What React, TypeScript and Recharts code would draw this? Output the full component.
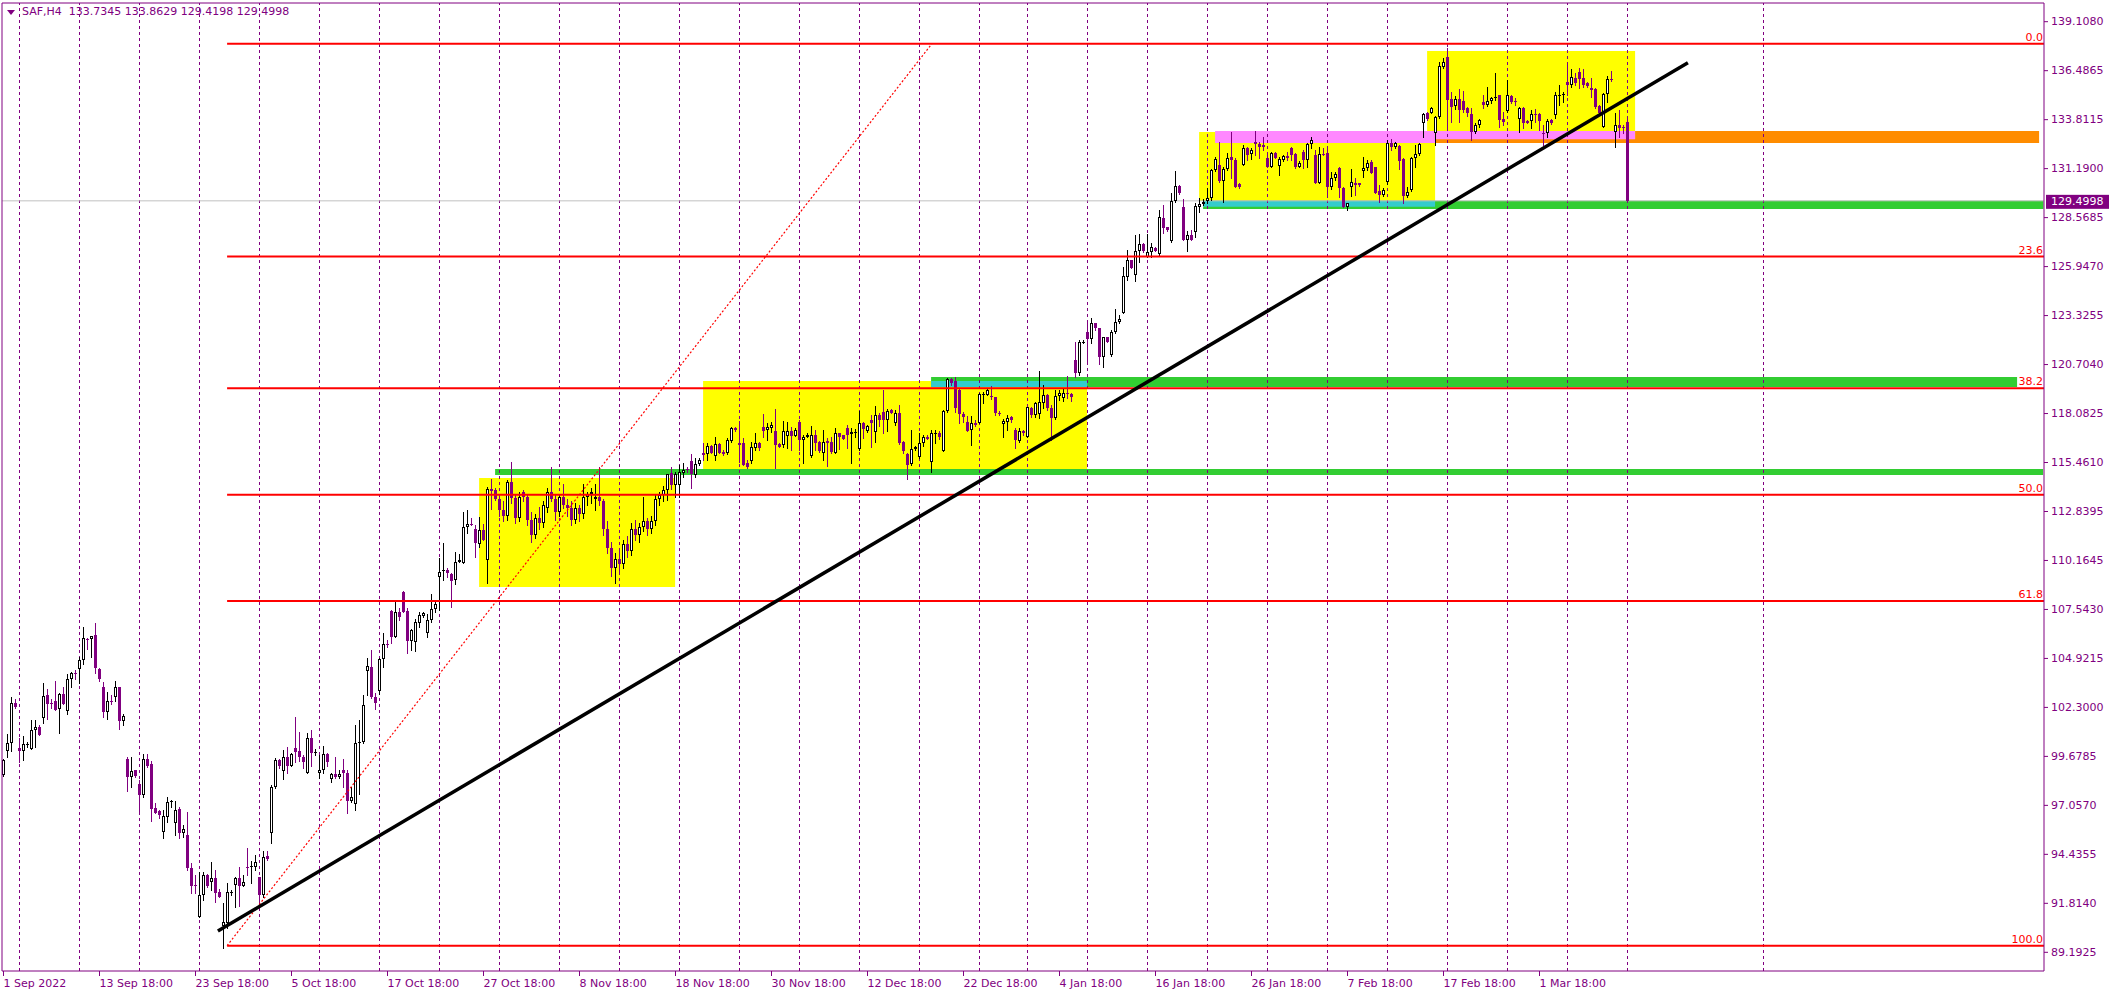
import React from 'react';
import { ComposedChart, Bar, XAxis, YAxis, ReferenceLine, ReferenceArea } from 'recharts';

const PURPLE = '#800080';
const FONT = 'DejaVu Sans';

const TITLE_TEXT = 'SAF,H4  133.7345 133.8629 129.4198 129.4998';
const LAST_PRICE = 129.4998;
const LAST_PRICE_LABEL = '129.4998';

// OHLC per H4 bar: [open, high, low, close]
const CANDLES: number[][] = [
  [98.70, 99.55, 98.65, 99.51], [100.01, 100.89, 99.69, 100.40], [100.40, 102.87, 100.01, 102.55], [102.55, 102.78, 102.32, 102.37], [100.17, 100.67, 99.38, 100.01],
  [100.01, 100.80, 99.51, 100.37], [100.33, 100.49, 100.19, 100.37], [100.08, 101.65, 100.08, 101.12], [101.10, 101.65, 100.22, 101.28], [101.30, 101.38, 100.87, 100.87],
  [101.74, 103.62, 101.51, 102.92], [102.98, 103.30, 101.73, 102.53], [102.58, 102.80, 102.30, 102.55], [102.66, 103.74, 102.19, 102.19], [102.23, 103.08, 100.94, 103.03],
  [103.05, 103.41, 102.53, 102.53], [102.15, 104.12, 101.99, 103.84], [103.84, 104.25, 103.41, 104.17], [104.17, 104.34, 103.84, 104.14], [104.41, 105.05, 103.62, 104.85],
  [104.85, 106.62, 104.64, 106.03], [106.02, 106.03, 105.44, 105.98], [106.02, 106.18, 105.05, 106.14], [106.21, 106.84, 104.19, 104.42], [104.39, 104.42, 103.76, 103.87],
  [103.41, 103.67, 101.80, 102.10], [102.10, 103.14, 101.73, 102.66], [102.67, 102.99, 102.49, 102.64], [102.87, 103.74, 102.69, 103.41], [103.41, 103.44, 101.19, 101.62],
  [101.62, 101.98, 101.39, 101.85], [99.54, 99.69, 97.86, 98.61], [98.61, 99.69, 98.08, 98.90], [98.95, 98.99, 98.61, 98.65], [98.22, 98.44, 96.79, 97.63],
  [97.63, 99.83, 97.54, 99.54], [99.54, 99.83, 99.15, 99.20], [99.29, 99.47, 96.24, 96.88], [96.92, 97.18, 96.65, 96.68], [96.77, 96.83, 96.42, 96.56],
  [95.66, 96.83, 95.34, 96.50], [96.47, 97.51, 96.20, 97.26], [97.26, 97.36, 97.00, 97.29], [96.11, 97.31, 95.48, 96.83], [96.88, 96.97, 95.31, 95.61],
  [95.61, 96.02, 95.36, 95.79], [95.48, 96.74, 93.61, 93.70], [93.70, 93.97, 92.36, 92.77], [92.78, 93.34, 92.36, 92.75], [91.10, 93.52, 91.10, 92.25],
  [92.25, 93.52, 92.00, 93.32], [93.32, 93.39, 92.71, 92.77], [92.98, 94.06, 92.54, 93.16], [93.16, 93.61, 91.91, 92.39], [92.43, 92.61, 92.18, 92.18],
  [90.62, 91.82, 89.42, 90.80], [90.75, 92.89, 90.48, 92.41], [92.39, 92.54, 92.27, 92.43], [92.80, 93.25, 91.64, 93.16], [93.16, 93.79, 91.68, 92.77],
  [92.77, 93.34, 92.77, 92.95], [93.79, 94.77, 93.34, 93.75], [93.75, 94.11, 92.89, 93.82], [93.79, 94.41, 93.61, 94.02], [93.21, 93.25, 91.64, 92.27],
  [92.27, 94.64, 92.18, 94.32], [94.36, 94.64, 94.14, 94.18], [95.57, 98.17, 95.04, 98.04], [98.04, 99.60, 97.99, 99.51], [99.51, 99.54, 99.06, 99.19],
  [98.94, 100.04, 98.49, 99.65], [99.65, 100.22, 98.79, 99.20], [99.20, 99.87, 99.19, 99.83], [100.13, 101.83, 99.42, 99.96], [99.99, 100.99, 99.47, 99.65],
  [99.69, 99.78, 99.10, 99.42], [98.79, 100.94, 98.79, 100.67], [100.67, 101.12, 99.20, 99.87], [99.87, 100.08, 99.78, 99.92], [98.79, 99.78, 98.52, 98.97],
  [98.97, 100.26, 98.79, 99.83], [99.83, 99.87, 99.19, 99.42], [98.47, 98.79, 98.31, 98.76], [98.76, 99.69, 98.52, 98.61], [98.58, 98.97, 98.52, 98.76],
  [98.97, 99.54, 98.08, 98.79], [98.79, 98.97, 96.68, 97.33], [97.33, 98.08, 97.27, 97.50], [97.13, 101.39, 96.82, 100.40], [100.40, 101.65, 97.69, 100.49],
  [100.49, 102.99, 100.40, 102.46], [104.28, 104.96, 102.99, 104.55], [104.48, 105.41, 102.82, 102.87], [102.87, 103.08, 102.22, 102.55], [103.23, 104.96, 103.05, 104.91],
  [104.91, 106.30, 104.51, 105.71], [105.71, 105.94, 105.59, 105.66], [107.50, 107.55, 105.80, 106.12], [106.12, 108.00, 106.12, 107.46], [107.46, 107.64, 107.02, 107.16],
  [108.54, 108.57, 107.43, 107.46], [107.50, 107.64, 105.23, 105.89], [105.89, 106.52, 105.41, 106.48], [105.85, 107.07, 105.37, 106.93], [106.84, 107.46, 106.62, 107.29],
  [107.23, 107.46, 107.20, 107.41], [106.34, 107.34, 106.09, 107.02], [107.02, 108.41, 106.93, 107.59], [107.59, 108.09, 107.46, 107.87], [109.31, 110.32, 107.55, 109.61],
  [109.65, 111.17, 109.16, 109.68], [109.70, 109.79, 109.31, 109.56], [109.48, 109.52, 107.73, 109.13], [109.16, 110.68, 108.95, 110.11], [110.11, 110.56, 110.11, 110.24],
  [110.09, 112.83, 110.06, 112.02], [112.02, 112.92, 111.67, 112.17], [112.17, 112.47, 112.11, 112.13], [111.88, 112.11, 110.38, 111.13], [111.09, 112.52, 110.95, 111.84],
  [111.84, 112.17, 111.31, 111.31], [110.24, 114.17, 108.98, 114.03], [114.03, 114.56, 112.95, 113.95], [113.99, 114.08, 113.45, 113.49], [113.50, 113.70, 112.60, 112.90],
  [112.90, 113.40, 112.30, 112.60], [112.60, 114.50, 112.40, 114.40], [114.40, 115.50, 113.30, 113.55], [113.55, 113.80, 112.20, 112.50], [112.50, 113.90, 112.30, 113.60],
  [113.90, 114.00, 113.40, 113.60], [113.60, 113.70, 112.10, 112.40], [112.40, 112.80, 111.20, 111.60], [111.60, 112.70, 111.40, 112.50], [112.50, 113.10, 111.90, 112.20],
  [112.20, 113.40, 112.00, 113.20], [113.00, 114.10, 112.80, 113.90], [113.90, 115.20, 113.40, 113.50], [113.50, 113.70, 112.40, 112.80], [112.80, 113.80, 112.60, 113.60],
  [113.60, 114.30, 113.00, 113.20], [113.20, 113.50, 112.60, 113.00], [113.00, 113.40, 112.10, 112.40], [112.40, 113.30, 112.20, 113.00], [113.00, 113.20, 112.30, 112.70],
  [112.70, 114.30, 112.50, 113.60], [113.60, 113.90, 113.20, 113.80], [113.80, 114.10, 113.30, 113.90], [113.50, 114.30, 112.90, 113.60], [113.60, 115.20, 113.20, 113.40],
  [113.40, 113.50, 111.60, 111.90], [111.90, 112.30, 110.60, 110.90], [110.90, 111.20, 109.40, 109.80], [109.80, 110.60, 109.00, 110.30], [110.30, 110.80, 109.60, 110.00],
  [110.00, 111.30, 109.80, 111.10], [111.10, 111.50, 110.40, 110.70], [110.70, 112.20, 110.50, 111.90], [111.90, 112.40, 111.30, 111.60], [111.60, 112.20, 111.20, 112.00],
  [112.00, 113.60, 111.80, 112.30], [112.30, 112.50, 111.60, 111.90], [111.90, 112.60, 111.70, 112.30], [112.30, 113.70, 112.10, 113.50], [113.50, 113.90, 113.20, 113.70],
  [113.70, 114.20, 113.40, 113.99], [113.99, 114.85, 113.45, 114.85], [114.88, 115.20, 114.03, 114.26], [114.26, 114.97, 113.63, 114.85], [114.26, 115.33, 113.63, 114.97],
  [114.92, 115.42, 114.71, 115.06], [115.12, 115.20, 114.97, 115.08], [115.54, 115.92, 114.08, 114.85], [114.79, 115.69, 114.71, 115.37], [115.38, 115.69, 115.33, 115.60],
  [115.96, 116.53, 115.60, 115.89], [115.90, 116.49, 115.60, 116.35], [116.33, 116.40, 115.96, 115.99], [115.81, 116.81, 115.60, 116.46], [116.46, 116.49, 115.96, 115.99],
  [116.05, 116.14, 115.89, 115.92], [115.96, 116.76, 115.92, 116.67], [116.64, 117.35, 116.58, 117.30], [117.31, 117.35, 117.17, 117.21], [116.49, 117.71, 115.51, 116.42],
  [116.49, 116.76, 115.33, 115.33], [115.46, 115.60, 115.15, 115.24], [115.56, 116.58, 115.42, 116.31], [116.26, 117.03, 116.14, 116.53], [116.53, 116.58, 116.14, 116.22],
  [117.37, 118.07, 116.81, 117.16], [117.21, 117.57, 116.67, 117.35], [117.30, 117.66, 117.12, 117.48], [117.17, 118.32, 115.15, 116.40], [116.44, 116.49, 116.28, 116.31],
  [116.40, 117.71, 116.31, 117.17], [116.89, 117.66, 116.22, 117.17], [117.17, 117.39, 116.14, 116.90], [116.90, 117.30, 116.89, 117.21], [117.65, 117.74, 116.13, 116.67],
  [116.67, 116.94, 115.42, 116.85], [116.81, 117.03, 116.81, 116.94], [115.81, 117.42, 115.78, 116.94], [116.94, 117.21, 116.13, 116.53], [116.58, 116.62, 116.04, 116.10],
  [115.96, 117.21, 115.60, 116.56], [116.62, 116.76, 115.28, 116.53], [116.58, 116.85, 115.96, 116.05], [115.99, 117.30, 115.96, 117.03], [117.03, 117.07, 116.17, 116.85],
  [116.92, 116.96, 116.71, 116.74], [117.30, 117.48, 116.22, 116.94], [116.98, 117.30, 115.42, 117.10], [117.05, 117.24, 116.85, 117.10], [116.17, 118.24, 116.13, 117.57],
  [117.57, 117.65, 116.76, 117.24], [117.17, 117.48, 117.12, 117.42], [117.74, 118.01, 116.28, 117.57], [117.12, 118.49, 116.58, 117.99], [118.01, 118.10, 117.42, 117.74],
  [118.19, 119.35, 117.03, 117.74], [117.74, 118.31, 117.17, 118.24], [118.28, 118.31, 118.10, 118.14], [117.60, 118.28, 117.48, 118.10], [118.10, 118.55, 116.46, 116.49],
  [116.58, 116.62, 115.96, 116.10], [115.92, 115.96, 114.56, 115.33], [115.37, 117.21, 115.33, 116.17], [116.17, 116.35, 116.13, 116.28], [115.74, 117.03, 115.69, 116.49],
  [116.49, 116.94, 116.35, 116.81], [116.81, 116.94, 116.74, 116.74], [115.51, 117.21, 114.97, 117.07], [117.03, 117.21, 116.53, 117.07], [117.07, 117.17, 116.71, 116.81],
  [116.10, 118.28, 116.10, 118.24], [118.24, 119.98, 118.19, 119.93], [119.93, 120.01, 119.62, 119.75], [119.82, 120.07, 118.19, 118.37], [119.35, 119.44, 117.60, 118.07],
  [118.07, 118.19, 117.65, 117.89], [117.65, 117.96, 117.17, 117.17], [117.21, 117.96, 116.40, 117.57], [117.60, 117.74, 117.42, 117.48], [117.60, 119.21, 117.57, 119.14],
  [119.12, 119.26, 118.67, 119.14], [119.08, 119.39, 119.08, 119.35], [119.01, 119.57, 118.85, 118.97], [118.97, 119.00, 118.01, 118.10], [118.14, 118.24, 118.01, 118.06],
  [117.51, 117.78, 116.85, 117.69], [117.65, 118.01, 117.21, 117.83], [117.92, 117.96, 117.65, 117.74], [117.21, 117.30, 116.22, 116.67], [116.64, 117.30, 116.58, 117.17],
  [117.17, 117.21, 116.94, 117.03], [116.85, 118.46, 116.85, 118.42], [118.37, 118.46, 117.92, 118.01], [118.01, 118.72, 117.92, 118.67], [118.06, 120.37, 117.83, 118.71],
  [118.67, 119.62, 118.37, 119.08], [119.08, 119.14, 118.28, 118.37], [118.37, 118.55, 116.67, 117.83], [117.83, 119.35, 117.78, 119.03], [119.03, 119.35, 118.82, 119.17],
  [118.90, 119.39, 118.78, 119.17], [119.21, 120.10, 118.90, 119.12], [119.14, 119.17, 118.78, 118.96], [120.96, 121.95, 120.07, 120.25], [120.25, 122.04, 120.16, 121.95],
  [121.93, 122.04, 121.90, 121.95], [122.48, 123.11, 120.75, 122.09], [122.07, 123.20, 121.89, 122.93], [122.93, 122.96, 122.57, 122.66], [122.66, 122.66, 120.75, 121.14],
  [121.14, 122.21, 120.60, 122.18], [122.18, 122.21, 121.95, 121.95], [121.23, 122.57, 121.18, 122.48], [122.48, 123.68, 122.39, 123.02], [123.02, 123.38, 122.93, 123.14],
  [123.50, 125.93, 123.47, 125.47], [125.43, 126.86, 125.26, 126.33], [126.33, 126.33, 125.88, 125.92], [125.52, 127.67, 125.22, 126.83], [126.83, 127.72, 126.24, 127.18],
  [127.18, 127.22, 126.77, 126.83], [126.50, 127.72, 126.47, 126.74], [126.74, 127.22, 126.50, 127.01], [126.97, 127.01, 126.79, 126.83], [126.63, 129.01, 126.59, 128.61],
  [128.56, 129.28, 127.79, 128.06], [128.08, 128.11, 127.90, 127.94], [127.36, 129.94, 127.31, 129.51], [129.51, 131.10, 129.45, 130.30], [130.30, 130.35, 129.87, 129.90],
  [129.15, 129.58, 127.40, 127.40], [127.40, 127.90, 126.83, 127.65], [127.67, 127.94, 127.40, 127.40], [127.85, 129.37, 127.54, 129.22], [129.19, 129.63, 128.92, 129.33],
  [129.31, 129.58, 129.28, 129.45], [129.51, 130.17, 129.37, 129.65], [129.63, 131.19, 129.54, 131.15], [131.15, 131.87, 131.12, 131.73], [131.42, 132.67, 130.53, 130.58],
  [130.58, 131.33, 129.45, 131.19], [131.19, 132.05, 131.15, 131.78], [131.83, 133.21, 130.70, 131.69], [131.69, 131.78, 130.26, 130.26], [130.40, 130.44, 130.17, 130.26],
  [131.42, 132.49, 131.42, 132.31], [132.31, 132.40, 131.69, 131.96], [131.99, 132.31, 131.73, 132.23], [132.64, 133.26, 131.96, 132.55], [132.55, 132.67, 131.78, 132.41],
  [132.50, 132.94, 132.23, 132.37], [131.78, 132.14, 131.33, 131.33], [131.33, 132.14, 131.30, 132.05], [132.08, 132.14, 131.78, 131.82], [131.37, 131.87, 130.89, 131.73],
  [131.69, 131.96, 131.65, 131.90], [131.90, 132.14, 131.69, 131.78], [132.35, 132.40, 131.69, 131.96], [132.01, 132.05, 131.24, 131.33], [131.33, 131.65, 131.30, 131.51],
  [132.14, 132.23, 131.24, 131.69], [131.69, 132.62, 131.33, 132.55], [132.53, 132.94, 132.31, 132.76], [131.96, 132.23, 130.44, 130.47], [130.47, 132.40, 130.44, 131.99],
  [132.01, 132.31, 131.96, 131.99], [132.05, 132.31, 129.72, 130.26], [130.26, 131.06, 130.12, 130.71], [130.71, 131.06, 130.62, 130.94], [131.24, 131.33, 129.72, 130.17],
  [130.17, 130.26, 129.19, 129.19], [129.19, 129.40, 129.01, 129.36], [130.26, 131.19, 129.78, 130.49], [130.44, 130.71, 129.81, 130.35], [130.44, 130.47, 130.30, 130.35],
  [131.10, 131.87, 130.80, 131.24], [131.24, 131.69, 131.15, 131.55], [131.56, 131.69, 130.97, 131.01], [131.33, 131.33, 129.90, 129.94], [130.03, 130.35, 129.45, 129.81],
  [129.81, 130.17, 129.78, 130.08], [130.53, 132.76, 130.40, 132.58], [132.58, 132.80, 132.23, 132.37], [132.37, 132.67, 132.31, 132.58], [132.44, 132.49, 131.19, 131.65],
  [131.73, 131.78, 129.36, 129.78], [129.78, 130.26, 129.72, 129.99], [130.08, 131.87, 130.04, 131.78], [131.78, 132.49, 131.33, 132.01], [132.01, 132.58, 131.96, 132.53],
  [133.66, 134.23, 132.94, 134.16], [134.23, 134.28, 133.83, 133.87], [134.23, 134.55, 134.19, 134.46], [133.16, 134.05, 132.49, 133.98], [133.98, 136.96, 133.92, 136.73],
  [136.70, 137.14, 136.61, 136.93], [137.20, 137.68, 133.30, 134.91], [134.94, 135.35, 133.75, 134.55], [134.59, 135.12, 134.41, 134.94], [134.94, 135.48, 133.75, 134.37],
  [134.87, 135.41, 134.28, 134.37], [134.46, 134.51, 134.05, 134.19], [134.16, 134.46, 132.76, 133.21], [133.21, 133.66, 133.16, 133.57], [133.57, 133.87, 133.48, 133.84],
  [134.82, 135.18, 134.46, 134.64], [134.64, 135.62, 134.59, 134.85], [134.85, 135.09, 134.76, 134.99], [135.07, 136.34, 134.91, 135.09], [135.18, 135.18, 133.48, 133.84],
  [133.87, 134.28, 133.57, 133.75], [134.33, 135.98, 134.28, 135.18], [135.14, 135.18, 134.73, 134.82], [134.87, 134.99, 134.64, 134.82], [133.87, 134.51, 133.21, 134.46],
  [134.46, 134.55, 133.39, 133.69], [133.78, 133.84, 133.66, 133.69], [133.80, 134.37, 133.39, 134.14], [134.16, 134.41, 133.75, 134.14], [134.14, 134.19, 133.30, 133.80],
  [133.12, 133.57, 132.49, 133.10], [133.12, 133.87, 132.94, 133.80], [133.84, 133.87, 133.62, 133.66], [134.10, 135.35, 133.93, 135.18], [135.16, 135.71, 134.64, 135.18],
  [135.20, 135.35, 134.82, 135.23], [135.86, 136.96, 135.18, 135.71], [135.71, 136.55, 135.62, 136.12], [136.07, 136.34, 135.71, 135.84], [136.43, 136.61, 135.53, 136.02],
  [136.07, 136.55, 135.59, 135.71], [135.80, 135.89, 135.59, 135.66], [135.53, 136.07, 135.09, 135.45], [135.48, 135.53, 134.46, 134.55], [134.59, 134.64, 134.19, 134.23],
  [133.44, 135.30, 133.44, 135.23], [135.23, 136.19, 134.82, 136.02], [136.04, 136.46, 135.95, 136.02], [133.21, 134.23, 132.37, 133.57], [133.57, 134.37, 132.90, 133.42],
  [133.48, 133.57, 133.12, 133.39], [133.7345, 133.8629, 129.4198, 129.4998],
];

const X_TICK_BARS = [0, 24, 48, 72, 96, 120, 144, 168, 192, 216, 240, 264, 288, 312, 336, 360, 384];
const X_TICK_LABELS = ['1 Sep 2022', '13 Sep 18:00', '23 Sep 18:00', '5 Oct 18:00', '17 Oct 18:00', '27 Oct 18:00', '8 Nov 18:00', '18 Nov 18:00', '30 Nov 18:00', '12 Dec 18:00', '22 Dec 18:00', '4 Jan 18:00', '16 Jan 18:00', '26 Jan 18:00', '7 Feb 18:00', '17 Feb 18:00', '1 Mar 18:00'];
const GRID_BARS = [4, 19, 34, 49, 64, 79, 94, 109, 124, 139, 154, 169, 184, 199, 214, 229, 244, 256, 271, 286, 301, 316, 331, 346, 361, 376, 391, 406, 440];

const Y_TICK_LABELS = ['139.1080', '136.4865', '133.8115', '131.1900', '128.5685', '125.9470', '123.3255', '120.7040', '118.0825', '115.4610', '112.8395', '110.1645', '107.5430', '104.9215', '102.3000', '99.6785', '97.0570', '94.4355', '91.8140', '89.1925'];
const Y_TICK_TOP = 139.108;
const Y_TICK_BOTTOM = 89.1925;

const X_MIN = -0.375;
const X_MAX = 510.125;
const Y_MIN = 88.1895;
const Y_MAX = 140.111;

const FIB_START_BAR = 55.9;
const FIB_HIGH = 137.928;
const FIB_LOW = 89.548;
const FIB_LEVELS = [0, 23.6, 38.2, 50, 61.8, 100];
const FIB_LABELS = ['0.0', '23.6', '38.2', '50.0', '61.8', '100.0'];
const FIB_TREND = { x1: 55.9, y1: 89.548, x2: 232.1, y2: 137.928 };
const TRENDLINE = { x1: 53.6, y1: 90.335, x2: 421.1, y2: 136.909 };

const ZONES = [
  { kind: 'yellow', x1: 118.9, x2: 167.9, y1: 108.787, y2: 114.633 },
  { kind: 'yellow', x1: 174.9, x2: 270.9, y1: 115.116, y2: 119.836 },
  { kind: 'yellow', x1: 298.9, x2: 357.9, y1: 129.491, y2: 133.192 },
  { kind: 'green', x1: 122.9, x2: 509.9, y1: 114.794, y2: 115.116 },
  { kind: 'green', x1: 231.9, x2: 503.4, y1: 119.514, y2: 120.05 },
  { kind: 'cyan', x1: 231.9, x2: 270.9, y1: 119.514, y2: 119.836 },
  { kind: 'orange', x1: 355.9, x2: 508.9, y1: 132.602, y2: 133.246 },
  { kind: 'yellow', x1: 355.9, x2: 407.9, y1: 132.816, y2: 137.536 },
  { kind: 'pink', x1: 302.9, x2: 357.9, y1: 132.602, y2: 133.246 },
  { kind: 'pink', x1: 355.9, x2: 407.9, y1: 132.8, y2: 133.246 },
  { kind: 'green', x1: 299.9, x2: 510.0, y1: 129.062, y2: 129.508 },
  { kind: 'cyan', x1: 299.9, x2: 357.9, y1: 129.186, y2: 129.508 },
];

const ZONE_FILL: Record<string, string> = {
  yellow: '#FFFF00',
  green: '#32CD32',
  cyan: '#33CCCC',
  pink: '#FF88FF',
  orange: '#FF8C00',
};

const ROWS = CANDLES.map((c, i) => ({ i, o: c[0], h: c[1], l: c[2], c: c[3], range: [c[2], c[1]] }));
const Y_TICK_VALUES = Y_TICK_LABELS.map((_, k) => Y_TICK_TOP - (k * (Y_TICK_TOP - Y_TICK_BOTTOM)) / (Y_TICK_LABELS.length - 1));

const Candle = (props: any) => {
  const { x, y, width, height, payload } = props;
  if (!payload || x == null || y == null) return null;
  const { o, h, l, c } = payload;
  const top = Math.min(y, y + height);
  const bot = Math.max(y, y + height);
  const k = h > l ? (bot - top) / (h - l) : 0;
  const py = (v: number) => Math.round(top + (h - v) * k);
  const cx = Math.floor(x + width / 2) + 0.5;
  const up = c >= o;
  const color = up ? '#000000' : PURPLE;
  const yH = py(h);
  const yL = py(l);
  const bTop = Math.min(py(o), py(c));
  const bBot = Math.max(py(o), py(c));
  let body;
  if (bBot - bTop < 2) {
    body = <line x1={cx - 1.5} x2={cx + 1.5} y1={bTop + 0.5} y2={bTop + 0.5} stroke={color} strokeWidth={1} />;
  } else if (up) {
    body = <rect x={cx - 1} y={bTop + 0.5} width={2} height={bBot - bTop - 1} fill="#FFFFFF" stroke="#000000" strokeWidth={1} />;
  } else {
    body = <rect x={cx - 1.5} y={bTop} width={3} height={bBot - bTop} fill={PURPLE} />;
  }
  return (
    <g>
      <line x1={cx} x2={cx} y1={yH} y2={yL + 1} stroke={color} strokeWidth={1} />
      {body}
    </g>
  );
};

const XTick = (p: any) => {
  const idx = X_TICK_BARS.indexOf(p.payload.value);
  return (
    <text x={p.x} y={p.y + 7.5} fill={PURPLE} fontSize={11} fontFamily={FONT} textAnchor="start" dominantBaseline="central">
      {idx >= 0 ? X_TICK_LABELS[idx] : ''}
    </text>
  );
};

const YTick = (p: any) => {
  const idx = Y_TICK_VALUES.findIndex((v) => Math.abs(v - p.payload.value) < 1e-6);
  return (
    <text x={p.x} y={p.y} fill={PURPLE} fontSize={11} fontFamily={FONT} textAnchor="start" dominantBaseline="central">
      {idx >= 0 ? Y_TICK_LABELS[idx] : ''}
    </text>
  );
};

const PriceTag = (p: any) => {
  const vb = p.viewBox || {};
  const right = (vb.x || 0) + (vb.width || 0);
  const yy = vb.y || 0;
  return (
    <g>
      <rect x={right + 2} y={yy - 6} width={63} height={14} fill={PURPLE} />
      <text x={right + 7} y={yy + 1} fill="#FFFFFF" fontSize={11} fontFamily={FONT} dominantBaseline="central">
        {LAST_PRICE_LABEL}
      </text>
    </g>
  );
};

const fibLabel = (text: string) => (p: any) => {
  const vb = p.viewBox || {};
  const right = (vb.x || 0) + (vb.width || 0);
  return (
    <text x={right - 1} y={(vb.y || 0) - 3} fill="#FF0000" fontSize={11} fontFamily={FONT} textAnchor="end">
      {text}
    </text>
  );
};

export default function App() {
  return (
    <div style={{ position: 'absolute', left: 0, top: 0, width: 2115, height: 995, background: '#FFFFFF' }}>
      <ComposedChart width={2115} height={995} data={ROWS} margin={{ top: 3, right: 0, bottom: 0, left: 2 }}>
        <XAxis
          dataKey="i"
          type="number"
          domain={[X_MIN, X_MAX]}
          allowDataOverflow
          ticks={X_TICK_BARS}
          interval={0}
          height={24}
          tickSize={5}
          tickMargin={0}
          axisLine={{ stroke: PURPLE }}
          tickLine={{ stroke: PURPLE }}
          tick={(p: any) => <XTick {...p} />}
        />
        <YAxis
          orientation="right"
          type="number"
          domain={[Y_MIN, Y_MAX]}
          allowDataOverflow
          ticks={Y_TICK_VALUES}
          interval={0}
          width={71}
          tickSize={4}
          tickMargin={3}
          axisLine={{ stroke: PURPLE }}
          tickLine={{ stroke: PURPLE }}
          tick={(p: any) => <YTick {...p} />}
        />
        {ZONES.map((z, n) => (
          <ReferenceArea
            key={'zone' + n}
            x1={z.x1}
            x2={z.x2}
            y1={z.y1}
            y2={z.y2}
            fill={ZONE_FILL[z.kind]}
            fillOpacity={1}
            stroke="none"
            ifOverflow="visible"
            zIndex={10}
          />
        ))}
        {GRID_BARS.map((b) => (
          <ReferenceLine key={'grid' + b} x={b} stroke={PURPLE} strokeWidth={1} strokeDasharray="3 3" zIndex={20} />
        ))}
        <ReferenceLine y={LAST_PRICE} stroke="#C0C0C0" strokeWidth={1} zIndex={30} label={(p: any) => <PriceTag {...p} />} />
        <Bar dataKey="range" barSize={3} isAnimationActive={false} shape={(p: any) => <Candle {...p} />} zIndex={300} />
        {FIB_LEVELS.map((lv, n) => {
          const price = FIB_HIGH - (lv / 100) * (FIB_HIGH - FIB_LOW);
          return (
            <ReferenceLine
              key={'fib' + n}
              segment={[{ x: FIB_START_BAR, y: price }, { x: X_MAX - 0.01, y: price }]}
              stroke="#FF0000"
              strokeWidth={2}
              zIndex={400}
              label={fibLabel(FIB_LABELS[n])}
            />
          );
        })}
        <ReferenceLine
          segment={[{ x: FIB_TREND.x1, y: FIB_TREND.y1 }, { x: FIB_TREND.x2, y: FIB_TREND.y2 }]}
          stroke="#FF0000"
          strokeWidth={1.2}
          strokeDasharray="2 2"
          zIndex={400}
        />
        <ReferenceLine
          segment={[{ x: TRENDLINE.x1, y: TRENDLINE.y1 }, { x: TRENDLINE.x2, y: TRENDLINE.y2 }]}
          stroke="#000000"
          strokeWidth={3.5}
          zIndex={410}
        />
        <ReferenceLine y={Y_MAX} stroke={PURPLE} strokeWidth={1} zIndex={500} />
        <ReferenceLine x={X_MIN} stroke={PURPLE} strokeWidth={1} zIndex={500} />
      </ComposedChart>
      <div
        style={{
          position: 'absolute',
          left: 7,
          top: 10,
          width: 0,
          height: 0,
          borderLeft: '4px solid transparent',
          borderRight: '4px solid transparent',
          borderTop: '5px solid ' + PURPLE,
        }}
      />
      <div
        style={{
          position: 'absolute',
          left: 22,
          top: 5,
          fontFamily: FONT,
          fontSize: 11,
          lineHeight: '14px',
          color: PURPLE,
          whiteSpace: 'pre',
        }}
      >
        {TITLE_TEXT}
      </div>
    </div>
  );
}
